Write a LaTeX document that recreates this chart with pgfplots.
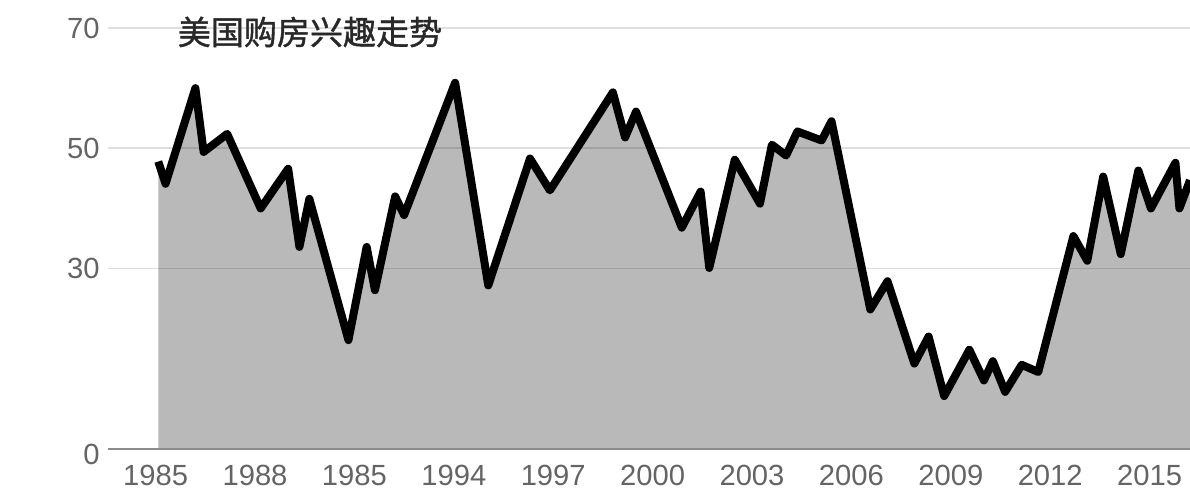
\documentclass[border=0pt]{standalone}
\usepackage{fontspec}
\setmainfont{Liberation Sans}
\newfontfamily\cjk[FakeBold=1.2]{Noto Sans CJK SC}
\usepackage{pgfplots}
\pgfplotsset{compat=1.18}

\definecolor{fillgray}{RGB}{185,185,185}
\definecolor{labelgray}{RGB}{100,100,100}
\definecolor{titlegray}{RGB}{40,40,40}

\begin{document}
\begin{tikzpicture}
\useasboundingbox (0,0) rectangle (119mm,49.1mm);
\begin{axis}[
	at={(10.8mm,4.2mm)}, anchor=south west,
	scale only axis, width=108.2mm, height=42.1mm,
	xmin=1983.563, xmax=2016.22, ymin=0, ymax=70,
	axis on top,
	axis line style={draw=none},
	tick style={draw=none},
	xtick={1985,1988,1991,1994,1997,2000,2003,2006,2009,2012,2015},
	xticklabels={1985,1988,1985,1994,1997,2000,2003,2006,2009,2012,2015},
	ytick={30,50,70},
	extra y ticks={0},
	extra y tick style={major grid style={black!45, opacity=1, line width=0.2mm},
		yticklabel style={yshift=-0.5mm}},
	ymajorgrids,
	grid style={black, opacity=0.13, line width=0.18mm},
	/pgf/number format/assume math mode=true,
	ticklabel style={font=\fontsize{8.3}{10}\selectfont, text=labelgray},
	xticklabel style={yshift=-0.4mm},
	yticklabel style={xshift=0.4mm},
]
\addplot[draw=none, fill=fillgray] coordinates {
(1985.08,47.8) (1985.3,44.1) (1986.2,60.0) (1986.45,49.4) (1987.16,52.4)
(1988.17,40.0) (1989.0,46.6) (1989.34,33.6) (1989.64,41.6) (1990.82,18.1)
(1991.37,33.6) (1991.62,26.4) (1992.23,42.0) (1992.5,38.9) (1994.04,60.9)
(1995.04,27.2) (1996.3,48.3) (1996.9,43.0) (1998.8,59.3) (1999.17,51.8)
(1999.5,56.1) (2000.88,36.8) (2001.45,42.8) (2001.71,30.1) (2002.48,48.1)
(2003.24,40.8) (2003.6,50.6) (2004.03,48.8) (2004.37,52.8) (2005.1,51.3)
(2005.4,54.5) (2006.57,23.2) (2007.09,27.9) (2007.9,14.2) (2008.33,18.7)
(2008.8,8.8) (2009.56,16.5) (2010.0,11.4) (2010.27,14.6) (2010.64,9.5)
(2011.14,14.0) (2011.64,12.8) (2012.7,35.4) (2013.12,31.3) (2013.6,45.3)
(2014.13,32.4) (2014.66,46.3) (2015.04,40.0) (2015.78,47.6) (2015.9,40.0)
(2016.22,44.7)
} \closedcycle;
\addplot[black, line width=0.8mm, line join=round] coordinates {
(1985.08,47.8) (1985.3,44.1) (1986.2,60.0) (1986.45,49.4) (1987.16,52.4)
(1988.17,40.0) (1989.0,46.6) (1989.34,33.6) (1989.64,41.6) (1990.82,18.1)
(1991.37,33.6) (1991.62,26.4) (1992.23,42.0) (1992.5,38.9) (1994.04,60.9)
(1995.04,27.2) (1996.3,48.3) (1996.9,43.0) (1998.8,59.3) (1999.17,51.8)
(1999.5,56.1) (2000.88,36.8) (2001.45,42.8) (2001.71,30.1) (2002.48,48.1)
(2003.24,40.8) (2003.6,50.6) (2004.03,48.8) (2004.37,52.8) (2005.1,51.3)
(2005.4,54.5) (2006.57,23.2) (2007.09,27.9) (2007.9,14.2) (2008.33,18.7)
(2008.8,8.8) (2009.56,16.5) (2010.0,11.4) (2010.27,14.6) (2010.64,9.5)
(2011.14,14.0) (2011.64,12.8) (2012.7,35.4) (2013.12,31.3) (2013.6,45.3)
(2014.13,32.4) (2014.66,46.3) (2015.04,40.0) (2015.78,47.6) (2015.9,40.0)
(2016.22,44.7)
};
\end{axis}
\node[text=titlegray, inner sep=0pt] at (31mm,45.9mm) {\fontsize{9.4}{11}\selectfont\cjk 美国购房兴趣走势};
\end{tikzpicture}
\end{document}
